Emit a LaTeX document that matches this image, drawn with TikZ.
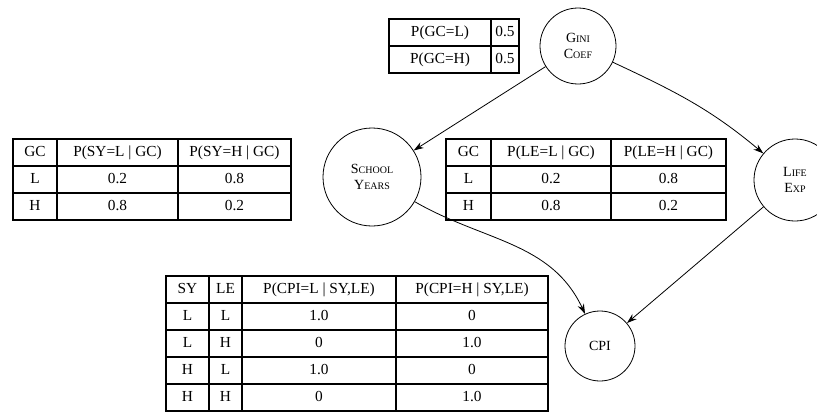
\documentclass[tikz,border=0pt]{standalone}
\usepackage{fontspec}
\setmainfont{Liberation Serif}
\usetikzlibrary{matrix,arrows.meta}

\newcommand{\smc}[2]{#1{\fontsize{7.5}{9}\selectfont #2}}
\newcommand{\tabfont}{\fontsize{11.5}{13}\selectfont}

\begin{document}
\begin{tikzpicture}[x=0.75pt,y=-0.75pt,>={Stealth[length=7.5pt,width=5pt]},
    var node/.style={circle,draw,semithick,align=center,inner sep=0pt,
      font=\fontsize{10.5}{12}\selectfont},
    cpt/.style={matrix of nodes,inner sep=0pt,column sep=-1.1pt,row sep=-1.1pt,
      nodes={draw,line width=1.1pt,minimum height=20.25pt,inner sep=0pt,
        anchor=center,text height=1.6ex,text depth=0.45ex,font=\tabfont}}]
  \useasboundingbox (0,0) rectangle (817,414);

  % network
  \node[var node,minimum size=57pt] (gc) at (578,46) {\smc{G}{INI}\\\smc{C}{OEF}};
  \node[var node,minimum size=73.5pt] (sy) at (372,177) {\smc{S}{CHOOL}\\\smc{Y}{EARS}};
  \node[var node,minimum size=61.5pt] (le) at (795,180) {\smc{L}{IFE}\\\smc{E}{XP}};
  \node[var node,minimum size=52.5pt] (cpi) at (600,346) {CPI};

  % tables
  \matrix (gctab) [cpt,anchor=north west,
      column 1/.style={nodes={minimum width=76.5pt}},
      column 2/.style={nodes={minimum width=21pt}}] at (388,18) {
    P(GC=L) & 0.5 \\
    P(GC=H) & 0.5 \\
  };
  \matrix (sytab) [cpt,anchor=north west,
      column 1/.style={nodes={minimum width=33pt}},
      column 2/.style={nodes={minimum width=90.75pt}},
      column 3/.style={nodes={minimum width=84.75pt}}] at (12,138) {
    GC & P(SY=L | GC) & P(SY=H | GC) \\
    L & 0.2 & 0.8 \\
    H & 0.8 & 0.2 \\
  };
  \matrix (letab) [cpt,anchor=north west,
      column 1/.style={nodes={minimum width=33.75pt}},
      column 2/.style={nodes={minimum width=90pt}},
      column 3/.style={nodes={minimum width=86.25pt}}] at (445,138) {
    GC & P(LE=L | GC) & P(LE=H | GC) \\
    L & 0.2 & 0.8 \\
    H & 0.8 & 0.2 \\
  };
  \matrix (cpitab) [cpt,anchor=north west,
      column 1/.style={nodes={minimum width=32.25pt}},
      column 2/.style={nodes={minimum width=24.75pt}},
      column 3/.style={nodes={minimum width=115.5pt}},
      column 4/.style={nodes={minimum width=114pt}}] at (165,275) {
    SY & LE & P(CPI=L | SY,LE) & P(CPI=H | SY,LE) \\
    L & L & 1.0 & 0 \\
    L & H & 0 & 1.0 \\
    H & L & 1.0 & 0 \\
    H & H & 0 & 1.0 \\
  };

  \path[->,semithick]
    (gc) edge (sy)
    (gc) edge [out=-25,in=140] (le)
    (sy) edge [out=-30,in=115] (cpi)
    (le) edge (cpi);
\end{tikzpicture}
\end{document}
